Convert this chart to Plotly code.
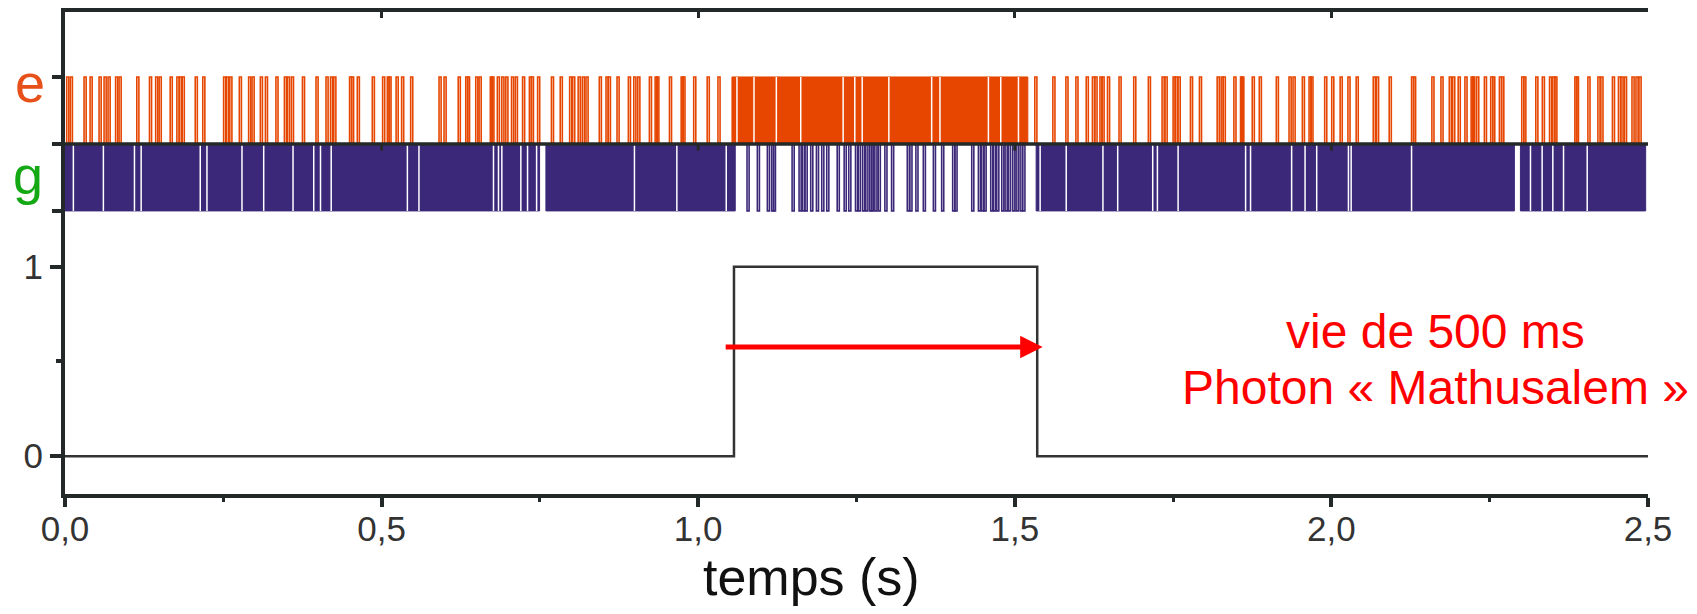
import plotly.graph_objects as go

# ---------------- data (times in seconds) ----------------
# top panel: atom detections (e = upward orange, g = downward purple)
e_spikes = [
    0.0027, 0.0084, 0.0301, 0.0396, 0.0538, 0.0617, 0.0680, 0.0799, 0.0854, 0.1134,
    0.1334, 0.1432, 0.1487, 0.1661, 0.1767, 0.1812, 0.1851, 0.2057, 0.2176, 0.2505,
    0.2547, 0.2603, 0.2753, 0.2900, 0.2954, 0.3085, 0.3165, 0.3331, 0.3465, 0.3513,
    0.3576, 0.3750, 0.3964, 0.4122, 0.4193, 0.4245, 0.4494, 0.4525, 0.4616, 0.4853,
    0.5016, 0.5090, 0.5116, 0.5229, 0.5316, 0.5459, 0.5907, 0.5986, 0.6210, 0.6329,
    0.6356, 0.6487, 0.6540, 0.6717, 0.6741, 0.6828, 0.6899, 0.6962, 0.7052, 0.7112,
    0.7226, 0.7334, 0.7365, 0.7464, 0.7682, 0.7821, 0.7970, 0.8017, 0.8104, 0.8169,
    0.8228, 0.8438, 0.8544, 0.8581, 0.8718, 0.8897, 0.8983, 0.9046, 0.9229, 0.9320,
    0.9346, 0.9546, 0.9731, 0.9758, 0.9929, 1.0142, 1.0312,
    1.5316, 1.5601, 1.5807, 1.5965, 1.6128, 1.6226, 1.6266, 1.6345, 1.6377, 1.6464,
    1.6646, 1.6878, 1.7109, 1.7326, 1.7373, 1.7500, 1.7532, 1.7579, 1.7774, 1.7916,
    1.8196, 1.8259, 1.8291, 1.8460, 1.8565, 1.8584, 1.8750, 1.8861, 1.9130, 1.9331,
    1.9394, 1.9541, 1.9647, 1.9676, 1.9894, 2.0005, 2.0138, 2.0261, 2.0391, 2.0661,
    2.0712, 2.0913, 2.1266, 2.1297, 2.1587, 2.1730, 2.1862, 2.1915, 2.2002, 2.2109,
    2.2207, 2.2231, 2.2294, 2.2416, 2.2516, 2.2547, 2.2653, 2.2690, 2.3006, 2.3038,
    2.3228, 2.3331, 2.3445, 2.3497, 2.3528, 2.3845, 2.3869, 2.4051, 2.4209, 2.4256,
    2.4438, 2.4533, 2.4573, 2.4628, 2.4747, 2.4810, 2.4858,
]
e_dense = [(1.0533, 1.5206)]
e_dense_gaps = [1.0612, 1.0881, 1.1234, 1.1619, 1.2289, 1.2473, 1.2590, 1.3011,
                1.3687, 1.3818, 1.4583, 1.4778, 1.5058]

g_spikes = [
    1.0771, 1.0934, 1.1092, 1.1160, 1.1187, 1.1483, 1.1593, 1.1646, 1.1688, 1.1777,
    1.1867, 1.1951, 1.2030, 1.2195, 1.2305, 1.2378, 1.2484, 1.2527, 1.2595, 1.2647,
    1.2710, 1.2737, 1.2790, 1.2843, 1.2948, 1.3054, 1.3302, 1.3343, 1.3438, 1.3555,
    1.3714, 1.3845, 1.4019, 1.4055, 1.4320, 1.4425, 1.4478, 1.4514, 1.4620, 1.4663,
    1.4715, 1.4794, 1.4847, 1.4900, 1.4968, 1.5021, 1.5084, 1.5127,
]
g_dense = [(0.0, 0.7495), (0.7595, 1.0585), (1.5337, 2.2890), (2.2985, 2.4963)]
g_dense_gaps = [0.0132, 0.0606, 0.1097, 0.1203, 0.2136, 0.2242, 0.2795, 0.3138,
                0.3601, 0.3928, 0.4035, 0.4204, 0.5407, 0.5590, 0.6767, 0.6846,
                0.6899, 0.7199, 0.7305, 0.7448, 0.8993, 0.9663, 1.0443, 1.5400,
                1.5812, 1.6392, 1.6625, 1.7178, 1.7252, 1.7579, 1.8645, 1.8723,
                1.9372, 1.9584, 1.9768, 2.0269, 2.0312, 2.1266, 2.3144, 2.3328,
                2.3497, 2.3666, 2.4040]

# bottom panel: photon number
step_t = [0.0, 1.0565, 1.5354, 2.5]
step_n = [0, 1, 0, 0]

lifetime_arrow = [1.041, 1.544]
arrow_level = 0.576

x_ticks = [0.0, 0.5, 1.0, 1.5, 2.0, 2.5]
x_labels = ["0,0", "0,5", "1,0", "1,5", "2,0", "2,5"]
x_minor = [0.25, 0.75, 1.25, 1.75, 2.25]
y_ticks = [0, 1]
y_labels = ["0", "1"]

# ---------------- styling ----------------
ORANGE = "#E64600"
PURPLE = "#3C2878"
AX = "#232829"
FONT = "Liberation Sans, Arial, sans-serif"
PW = 0.0033  # pulse width (s)


def pulses(times, lo, hi, w):
    xs, ys = [], []
    for t in times:
        xs += [t, t, t + w, t + w, None]
        ys += [lo, hi, hi, lo, None]
    return xs, ys


def bands(intervals, lo, hi):
    xs, ys = [], []
    for a, b in intervals:
        xs += [a, a, b, b, a, None]
        ys += [lo, hi, hi, lo, lo, None]
    return xs, ys


def vlines(times, lo, hi):
    xs, ys = [], []
    for t in times:
        xs += [t, t, None]
        ys += [lo, hi, None]
    return xs, ys


fig = go.Figure()

# top panel --------------------------------------------------------
bx, by = bands(g_dense, -1, 0)
fig.add_trace(go.Scatter(x=bx, y=by, mode="lines", fill="toself", fillcolor=PURPLE,
                         line=dict(color=PURPLE, width=1), xaxis="x2", yaxis="y2",
                         hoverinfo="skip", showlegend=False))
gx, gy = vlines(g_dense_gaps, -1, 0)
fig.add_trace(go.Scatter(x=gx, y=gy, mode="lines", line=dict(color="white", width=1.5),
                         xaxis="x2", yaxis="y2", hoverinfo="skip", showlegend=False))
px_, py_ = pulses(g_spikes, 0, -1, PW)
fig.add_trace(go.Scatter(x=px_, y=py_, mode="lines", line=dict(color=PURPLE, width=1.6),
                         xaxis="x2", yaxis="y2", hoverinfo="skip", showlegend=False))

bx, by = bands(e_dense, 0, 1)
fig.add_trace(go.Scatter(x=bx, y=by, mode="lines", fill="toself", fillcolor=ORANGE,
                         line=dict(color=ORANGE, width=1), xaxis="x2", yaxis="y2",
                         hoverinfo="skip", showlegend=False))
gx, gy = vlines(e_dense_gaps, 0, 1)
fig.add_trace(go.Scatter(x=gx, y=gy, mode="lines", line=dict(color="white", width=1.5),
                         xaxis="x2", yaxis="y2", hoverinfo="skip", showlegend=False))
px_, py_ = pulses(e_spikes, 0, 1, PW)
fig.add_trace(go.Scatter(x=px_, y=py_, mode="lines", line=dict(color=ORANGE, width=1.6),
                         xaxis="x2", yaxis="y2", hoverinfo="skip", showlegend=False))

# bottom panel -----------------------------------------------------
fig.add_trace(go.Scatter(x=step_t, y=step_n, mode="lines", line_shape="hv",
                         line=dict(color="#333333", width=2.5), xaxis="x", yaxis="y",
                         hoverinfo="skip", showlegend=False))

SPLIT = 0.5498

fig.update_layout(
    width=1681, height=598,
    margin=dict(l=57, r=41, t=4, b=112),
    paper_bgcolor="white", plot_bgcolor="white",
    font=dict(family=FONT, color="#333333"),
    xaxis=dict(domain=[0, 1], anchor="y", range=[0, 2.5], showline=True, linewidth=4,
               linecolor=AX, ticks="outside", ticklen=9, tickwidth=4, tickcolor=AX,
               tickmode="array", tickvals=x_ticks, ticktext=x_labels,
               tickfont=dict(size=35, color="#333333", family=FONT),
               ticklabelstandoff=-8,
               minor=dict(tickmode="array", tickvals=x_minor, ticks="outside",
                          ticklen=4, tickwidth=3, tickcolor=AX),
               showgrid=False, zeroline=False),
    yaxis=dict(domain=[0, SPLIT], anchor="x", range=[-0.2, 1.2], showline=True,
               linewidth=4, linecolor=AX, ticks="outside", ticklen=11, tickwidth=4,
               tickcolor=AX, tickmode="array", tickvals=y_ticks, ticktext=y_labels,
               tickfont=dict(size=35, color="#333333", family=FONT),
               minor=dict(tickmode="array", tickvals=[0.5], ticks="outside",
                          ticklen=5, tickwidth=4, tickcolor=AX),
               showgrid=False, zeroline=False),
    xaxis2=dict(anchor="y2", matches="x", side="top", showline=True, linewidth=4,
                linecolor=AX, ticks="inside", ticklen=6, tickwidth=3, tickcolor=AX,
                tickmode="array", tickvals=[0.5, 1.0, 1.5, 2.0], showticklabels=False,
                showgrid=False, zeroline=False),
    yaxis2=dict(domain=[SPLIT, 1], anchor="x2", range=[-1.27, 1.97], showline=True,
                linewidth=4, linecolor=AX, ticks="outside", ticklen=9, tickwidth=4,
                tickcolor=AX, tickmode="array", tickvals=[-1, 0, 1],
                showticklabels=False, showgrid=False, zeroline=False),
)

# mid baseline of the top panel (drawn above the traces)
fig.add_shape(type="line", xref="x2", yref="y2", x0=0, x1=2.5, y0=0, y1=0,
              line=dict(color=AX, width=3.5), layer="above")
for xv in [0.5, 1.0, 1.5, 2.0]:
    fig.add_shape(type="line", xref="x2", yref="y2", x0=xv, x1=xv, y0=0, y1=-0.1,
                  line=dict(color=AX, width=3), layer="above")

# state labels
fig.add_annotation(text="e", xref="paper", yref="y2", x=-0.0221, y=0.91,
                   xanchor="center", yanchor="middle", showarrow=False,
                   font=dict(size=54, color="#E8501A", family=FONT))
fig.add_annotation(text="g", xref="paper", yref="y2", x=-0.0234, y=-0.47,
                   xanchor="center", yanchor="middle", showarrow=False,
                   font=dict(size=54, color="#14A814", family=FONT))

# axis title
fig.add_annotation(text="temps (s)", xref="paper", yref="paper", x=0.4716, y=-0.172,
                   xanchor="center", yanchor="middle", showarrow=False,
                   font=dict(size=52, color="#111111", family=FONT))

# lifetime arrow and text
fig.add_annotation(x=lifetime_arrow[1], y=arrow_level, ax=lifetime_arrow[0], ay=arrow_level,
                   xref="x", yref="y", axref="x", ayref="y", text="", showarrow=True,
                   arrowhead=2, arrowsize=0.9, arrowwidth=5, arrowcolor="#FF0000")
fig.add_annotation(text="vie de 500 ms", xref="paper", yref="paper", x=0.866, y=0.338,
                   xanchor="center", yanchor="middle", showarrow=False,
                   font=dict(size=48, color="#FF0000", family=FONT))
fig.add_annotation(text="Photon « Mathusalem »", xref="paper", yref="paper", x=0.866,
                   y=0.220, xanchor="center", yanchor="middle", showarrow=False,
                   font=dict(size=48, color="#FF0000", family=FONT))

fig.write_html("out.html")
